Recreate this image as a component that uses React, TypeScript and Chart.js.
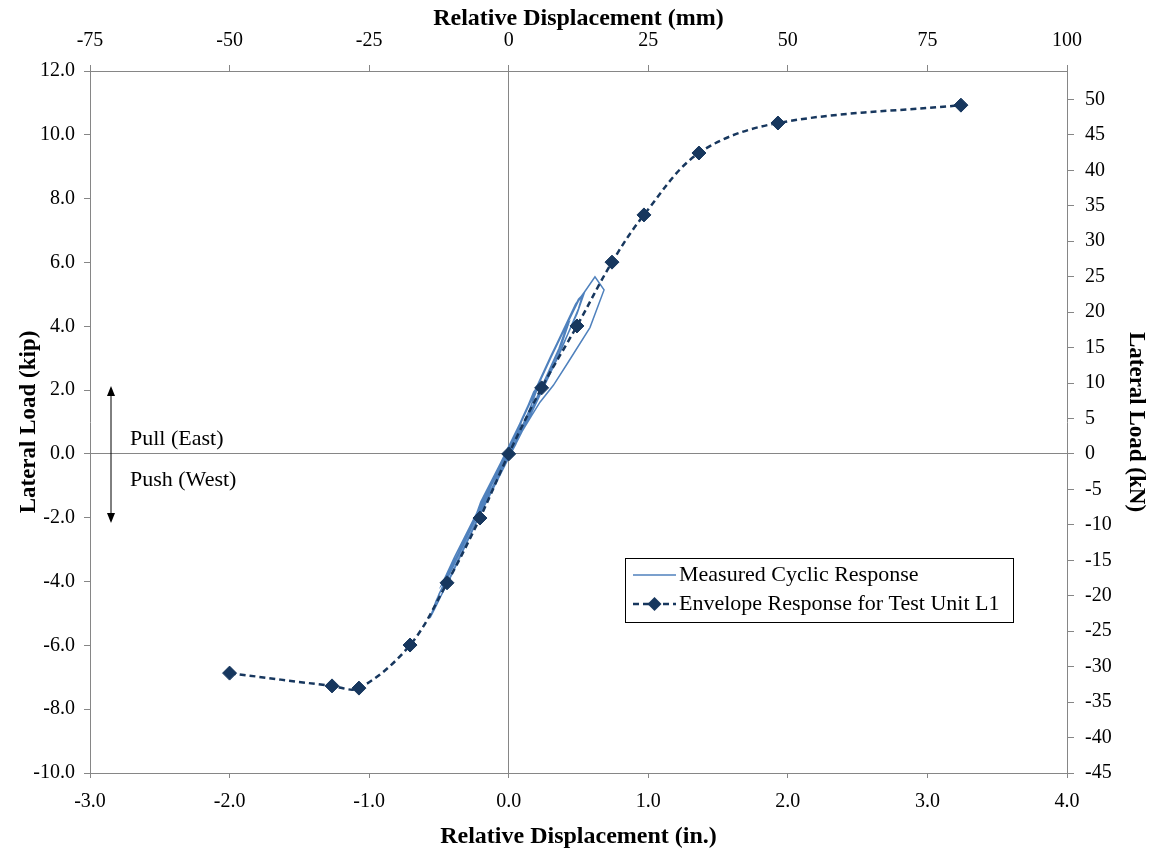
import { useEffect, useRef } from 'react';
import { Chart, registerables } from 'chart.js';

Chart.register(...registerables);

// ---- data (inches / kip) ----
const envelopeX = [-2.0, -1.266, -1.073, -0.707, -0.442, -0.206, 0, 0.236, 0.489, 0.74, 0.969, 1.363, 1.929, 3.24];
const envelopeY = [-6.87, -7.27, -7.34, -5.99, -4.04, -2.01, 0, 2.07, 4.01, 6.01, 7.49, 9.43, 10.37, 10.93];

const measuredX = [
  0, 0.04, 0.09, 0.07, 0.0, -0.07, -0.13, -0.1, -0.02,
  0.08, 0.18, 0.2, 0.16, 0.05, -0.1, -0.23, -0.245, -0.2, -0.06,
  0.08, 0.19, 0.21, 0.15, 0.03, -0.11, -0.24, -0.19, -0.05,
  0.09, 0.3, 0.41, 0.42, 0.36, 0.2, 0.03, -0.12, -0.34, -0.45, -0.46, -0.38, -0.22, -0.04,
  0.07, 0.28, 0.4, 0.43, 0.38, 0.22, 0.05, -0.14, -0.36, -0.47, -0.48, -0.39, -0.2, -0.02,
  0.09, 0.3, 0.5, 0.54, 0.49, 0.33, 0.14, 0.0, -0.22, -0.43, -0.53, -0.564, -0.52, -0.36, -0.17, -0.01,
  0.08, 0.29, 0.48, 0.53, 0.5, 0.36, 0.17, 0.02, -0.2, -0.41, -0.52, -0.55, -0.5, -0.33, -0.15, 0.0,
  0.1, 0.31, 0.5, 0.618, 0.683, 0.582, 0.427, 0.32, 0.224, 0.164, 0.06, 0,
];
const measuredY = [
  0, 0.5, 1.0, 0.7, 0.05, -0.5, -1.0, -0.7, -0.05,
  0.9, 1.95, 2.05, 1.5, 0.3, -0.9, -2.0, -2.05, -1.5, -0.3,
  0.95, 2.0, 2.1, 1.4, 0.2, -1.0, -2.02, -1.45, -0.25,
  1.0, 3.0, 4.0, 4.05, 3.3, 1.75, 0.2, -0.95, -3.0, -4.0, -4.05, -3.3, -1.8, -0.25,
  0.85, 2.85, 3.95, 4.1, 3.45, 1.9, 0.35, -1.1, -3.1, -4.05, -4.1, -3.25, -1.6, -0.1,
  1.05, 3.05, 4.85, 5.03, 4.4, 2.85, 1.1, -0.1, -2.0, -3.95, -4.85, -5.14, -4.6, -3.1, -1.35, 0.0,
  0.95, 2.95, 4.7, 5.0, 4.55, 3.1, 1.35, 0.05, -1.85, -3.8, -4.75, -5.0, -4.4, -2.85, -1.2, 0.05,
  1.1, 3.1, 4.8, 5.55, 5.14, 3.96, 2.88, 2.15, 1.62, 1.2, 0.45, 0,
];

const dispTicksIn = [-3, -2, -1, 0, 1, 2, 3, 4];
const dispTicksMm = [-75, -50, -25, 0, 25, 50, 75, 100];
const loadTicksKip = [-10, -8, -6, -4, -2, 0, 2, 4, 6, 8, 10, 12];
const loadTicksKN = [-45, -40, -35, -30, -25, -20, -15, -10, -5, 0, 5, 10, 15, 20, 25, 30, 35, 40, 45, 50];

const measuredLabel = 'Measured Cyclic Response';
const envelopeLabel = 'Envelope Response for Test Unit L1';

const FONT = "'Liberation Serif', 'Times New Roman', serif";
const AXIS = '#868686';
const MEAS = '#4F81BD';
const ENV = '#17375E';

export default function App() {
  const ref = useRef<HTMLCanvasElement>(null);

  useEffect(() => {
    if (!ref.current) return;

    const annot = {
      id: 'annot',
      afterDraw(chart: any) {
        const ctx = chart.ctx;
        const a = chart.chartArea;
        const y0 = chart.scales.y.getPixelForValue(0);
        ctx.save();
        // Pull / Push arrow
        const ax = a.left + 21;
        const top = y0 - 68;
        const bot = y0 + 69;
        ctx.strokeStyle = '#000';
        ctx.fillStyle = '#000';
        ctx.lineWidth = 1;
        ctx.beginPath();
        ctx.moveTo(ax, top + 6);
        ctx.lineTo(ax, bot - 6);
        ctx.stroke();
        ctx.beginPath();
        ctx.moveTo(ax, top);
        ctx.lineTo(ax - 4, top + 10);
        ctx.lineTo(ax + 4, top + 10);
        ctx.closePath();
        ctx.fill();
        ctx.beginPath();
        ctx.moveTo(ax, bot);
        ctx.lineTo(ax - 4, bot - 10);
        ctx.lineTo(ax + 4, bot - 10);
        ctx.closePath();
        ctx.fill();
        ctx.font = `22px ${FONT}`;
        ctx.textAlign = 'left';
        ctx.textBaseline = 'middle';
        ctx.fillText('Pull (East)', a.left + 40, y0 - 15);
        ctx.fillText('Push (West)', a.left + 40, y0 + 26);

        // Legend
        const lx = a.left + 535;
        const ly = a.top + 487;
        const lw = 388;
        const lh = 64;
        ctx.fillStyle = '#fff';
        ctx.fillRect(lx, ly, lw, lh);
        ctx.strokeStyle = '#000';
        ctx.lineWidth = 1;
        ctx.strokeRect(lx + 0.5, ly + 0.5, lw, lh);
        const r1 = ly + 17;
        const r2 = ly + 46;
        ctx.strokeStyle = MEAS;
        ctx.lineWidth = 1.5;
        ctx.beginPath();
        ctx.moveTo(lx + 8, r1);
        ctx.lineTo(lx + 51, r1);
        ctx.stroke();
        ctx.strokeStyle = ENV;
        ctx.lineWidth = 2.5;
        ctx.setLineDash([6, 4]);
        ctx.beginPath();
        ctx.moveTo(lx + 8, r2);
        ctx.lineTo(lx + 51, r2);
        ctx.stroke();
        ctx.setLineDash([]);
        ctx.fillStyle = ENV;
        ctx.beginPath();
        ctx.moveTo(lx + 29.5, r2 - 7);
        ctx.lineTo(lx + 36.5, r2);
        ctx.lineTo(lx + 29.5, r2 + 7);
        ctx.lineTo(lx + 22.5, r2);
        ctx.closePath();
        ctx.fill();
        ctx.fillStyle = '#000';
        ctx.font = `22px ${FONT}`;
        ctx.textBaseline = 'middle';
        ctx.fillText(measuredLabel, lx + 54, r1);
        ctx.fillText(envelopeLabel, lx + 54, r2);
        ctx.restore();
      },
    };

    const tickFont = { family: FONT, size: 20 };
    const titleFontH = { family: FONT, size: 24, weight: 'bold' as const };
    const titleFontV = { family: FONT, size: 23, weight: 'bold' as const };
    const zeroGrid = (c: any) => (c.tick && c.tick.value === 0 ? AXIS : 'rgba(0,0,0,0)');

    const chart = new Chart(ref.current, {
      type: 'scatter',
      data: {
        datasets: [
          {
            label: envelopeLabel,
            data: envelopeX.map((x, i) => ({ x, y: envelopeY[i] })),
            showLine: true,
            borderColor: ENV,
            borderWidth: 2.5,
            borderDash: [6, 4],
            tension: 0.35,
            pointStyle: 'rectRot',
            pointRadius: 7,
            pointBackgroundColor: ENV,
            pointBorderColor: ENV,
            pointBorderWidth: 1,
            xAxisID: 'x',
            yAxisID: 'y',
            order: 0,
          },
          {
            label: measuredLabel,
            data: measuredX.map((x, i) => ({ x, y: measuredY[i] })),
            showLine: true,
            borderColor: MEAS,
            borderWidth: 1.5,
            pointRadius: 0,
            tension: 0,
            xAxisID: 'x',
            yAxisID: 'y',
            order: 1,
          },
        ],
      },
      options: {
        animation: false,
        responsive: true,
        maintainAspectRatio: false,
        layout: { padding: 0 },
        plugins: {
          legend: { display: false },
          tooltip: { enabled: false },
        },
        scales: {
          x: {
            type: 'linear',
            position: 'bottom',
            min: -3,
            max: 4,
            afterBuildTicks: (s: any) => {
              s.ticks = dispTicksIn.map((v) => ({ value: v }));
            },
            afterFit: (s: any) => {
              s.height = 81;
            },
            ticks: { font: tickFont, color: '#000', padding: 12, callback: (v: any) => Number(v).toFixed(1) },
            grid: { color: zeroGrid, tickColor: AXIS, tickLength: 5, lineWidth: 1 },
            border: { color: AXIS, width: 1 },
            title: { display: true, text: 'Relative Displacement (in.)', font: titleFontH, color: '#000', padding: { top: 0, bottom: 3 } },
          },
          x2: {
            type: 'linear',
            position: 'top',
            min: -75,
            max: 100,
            afterBuildTicks: (s: any) => {
              s.ticks = dispTicksMm.map((v) => ({ value: v }));
            },
            afterFit: (s: any) => {
              s.height = 71;
            },
            ticks: { font: tickFont, color: '#000', padding: 12, callback: (v: any) => String(v) },
            grid: { drawOnChartArea: false, tickColor: AXIS, tickLength: 6 },
            border: { color: AXIS, width: 1 },
            title: { display: true, text: 'Relative Displacement (mm)', font: titleFontH, color: '#000', padding: { top: 4, bottom: 0 } },
          },
          y: {
            type: 'linear',
            position: 'left',
            min: -10,
            max: 12,
            afterBuildTicks: (s: any) => {
              s.ticks = loadTicksKip.map((v) => ({ value: v }));
            },
            afterFit: (s: any) => {
              s.width = 90;
            },
            ticks: { font: tickFont, color: '#000', padding: 9, callback: (v: any) => Number(v).toFixed(1) },
            grid: { color: zeroGrid, tickColor: AXIS, tickLength: 6, lineWidth: 1 },
            border: { color: AXIS, width: 1 },
            title: { display: true, text: 'Lateral Load (kip)', font: titleFontV, color: '#000', padding: { top: 15, bottom: 0 } },
          },
          y2: {
            type: 'linear',
            position: 'right',
            min: -45,
            max: 54,
            afterBuildTicks: (s: any) => {
              s.ticks = loadTicksKN.map((v) => ({ value: v }));
            },
            afterFit: (s: any) => {
              s.width = 84;
            },
            ticks: { font: tickFont, color: '#000', padding: 11, callback: (v: any) => String(v) },
            grid: { drawOnChartArea: false, tickColor: AXIS, tickLength: 7 },
            border: { color: AXIS, width: 1 },
            title: { display: true, text: 'Lateral Load (kN)', font: titleFontV, color: '#000', padding: { top: 1, bottom: 0 } },
          },
        },
      },
      plugins: [annot],
    } as any);

    return () => chart.destroy();
  }, []);

  return (
    <div style={{ position: 'fixed', left: 0, top: 0, width: 1151, height: 854, background: '#fff' }}>
      <canvas ref={ref} />
    </div>
  );
}
